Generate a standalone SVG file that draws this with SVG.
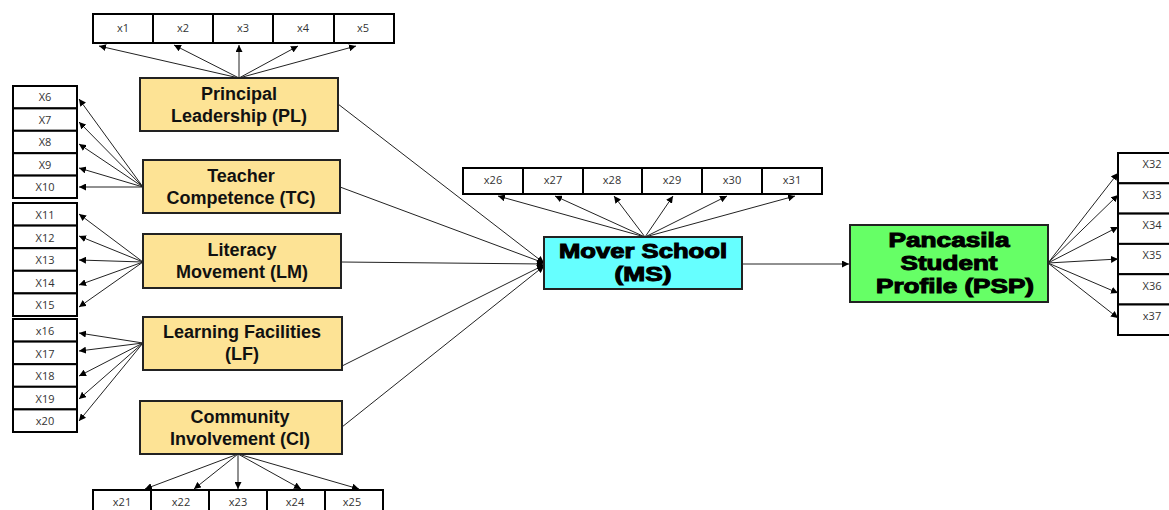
<svg xmlns="http://www.w3.org/2000/svg" width="1169" height="510" viewBox="0 0 1169 510">
<defs>
<marker id="ah" viewBox="0 0 10 10" refX="10" refY="5" markerWidth="7" markerHeight="7" markerUnits="userSpaceOnUse" orient="auto"><path d="M0,0 L10,5 L0,10 z" fill="#000"/></marker>
<style>
.ind rect{fill:#fff;stroke:#000;stroke-width:2}
.ind text{font-family:"Open Sans","Liberation Sans",sans-serif;font-size:11px;fill:#333;text-anchor:middle}
.lat rect{fill:#FDE395;stroke:#222;stroke-width:2}
.lat text{font-family:"Liberation Sans",Arial,sans-serif;font-weight:bold;font-size:18px;fill:#111;text-anchor:middle}
.big text{font-family:"Liberation Sans",Arial,sans-serif;font-weight:bold;font-size:19.5px;fill:#000;text-anchor:middle;stroke:#000;stroke-width:1}
.big rect{stroke:#222;stroke-width:2}
#connectors line{stroke:#222;stroke-width:1;marker-end:url(#ah)}
</style>
</defs>
<rect width="1169" height="510" fill="#fff"/>

<g id="ind-top" class="ind">
<rect x="93" y="14" width="60" height="29"/><text x="123" y="32">x1</text>
<rect x="153" y="14" width="60" height="29"/><text x="183" y="32">x2</text>
<rect x="213" y="14" width="60" height="29"/><text x="243" y="32">x3</text>
<rect x="273" y="14" width="61" height="29"/><text x="303" y="32">x4</text>
<rect x="334" y="14" width="60" height="29"/><text x="363" y="32">x5</text>
</g>
<g id="ind-tc" class="ind">
<rect x="13" y="86" width="64" height="22.4"/><text x="45" y="101">X6</text>
<rect x="13" y="108.4" width="64" height="22.4"/><text x="45" y="123.5">X7</text>
<rect x="13" y="130.8" width="64" height="22.4"/><text x="45" y="146">X8</text>
<rect x="13" y="153.2" width="64" height="22.4"/><text x="45" y="168.5">X9</text>
<rect x="13" y="175.6" width="64" height="22.4"/><text x="45" y="191">X10</text>
</g>
<g id="ind-lm" class="ind">
<rect x="13" y="203" width="64" height="22.6"/><text x="45" y="219">X11</text>
<rect x="13" y="225.6" width="64" height="22.6"/><text x="45" y="241.5">X12</text>
<rect x="13" y="248.2" width="64" height="22.6"/><text x="45" y="264">X13</text>
<rect x="13" y="270.8" width="64" height="22.6"/><text x="45" y="286.5">X14</text>
<rect x="13" y="293.4" width="64" height="22.6"/><text x="45" y="309">X15</text>
</g>
<g id="ind-lf" class="ind">
<rect x="13" y="319" width="64" height="22.6"/><text x="45" y="335">x16</text>
<rect x="13" y="341.6" width="64" height="22.6"/><text x="45" y="357.5">X17</text>
<rect x="13" y="364.2" width="64" height="22.6"/><text x="45" y="380">X18</text>
<rect x="13" y="386.8" width="64" height="22.6"/><text x="45" y="402.5">X19</text>
<rect x="13" y="409.4" width="64" height="22.6"/><text x="45" y="425">x20</text>
</g>
<g id="ind-ci" class="ind">
<rect x="93" y="490" width="58" height="29"/><text x="122" y="506">x21</text>
<rect x="151" y="490" width="58" height="29"/><text x="181" y="506">x22</text>
<rect x="209" y="490" width="58" height="29"/><text x="238" y="506">x23</text>
<rect x="267" y="490" width="58" height="29"/><text x="295" y="506">x24</text>
<rect x="325" y="490" width="58" height="29"/><text x="352" y="506">x25</text>
</g>
<g id="ind-ms" class="ind">
<rect x="463" y="168" width="60" height="26"/><text x="493" y="184">x26</text>
<rect x="523" y="168" width="60" height="26"/><text x="553" y="184">x27</text>
<rect x="583" y="168" width="59" height="26"/><text x="612" y="184">x28</text>
<rect x="642" y="168" width="60" height="26"/><text x="672" y="184">x29</text>
<rect x="702" y="168" width="60" height="26"/><text x="732" y="184">x30</text>
<rect x="762" y="168" width="60" height="26"/><text x="792" y="184">x31</text>
</g>
<g id="ind-psp" class="ind">
<rect x="1118" y="153" width="60" height="30.3"/><text x="1152" y="168">X32</text>
<rect x="1118" y="183.3" width="60" height="30.3"/><text x="1152" y="198.5">X33</text>
<rect x="1118" y="213.6" width="60" height="30.3"/><text x="1152" y="229">X34</text>
<rect x="1118" y="243.9" width="60" height="30.3"/><text x="1152" y="259">X35</text>
<rect x="1118" y="274.2" width="60" height="30.3"/><text x="1152" y="290">X36</text>
<rect x="1118" y="304.5" width="60" height="30.5"/><text x="1152" y="320">x37</text>
</g>

<g id="connectors">
<line x1="239" y1="78" x2="99" y2="46"/>
<line x1="239" y1="78" x2="174" y2="45"/>
<line x1="239" y1="78" x2="239" y2="45"/>
<line x1="239" y1="78" x2="298" y2="46"/>
<line x1="239" y1="78" x2="356" y2="46"/>

<line x1="143" y1="187" x2="79" y2="99"/>
<line x1="143" y1="187" x2="79" y2="122"/>
<line x1="143" y1="187" x2="79" y2="144"/>
<line x1="143" y1="187" x2="79" y2="168"/>
<line x1="143" y1="187" x2="79" y2="187"/>

<line x1="143" y1="262" x2="79" y2="214"/>
<line x1="143" y1="262" x2="79" y2="236"/>
<line x1="143" y1="262" x2="79" y2="260"/>
<line x1="143" y1="262" x2="79" y2="285"/>
<line x1="143" y1="262" x2="79" y2="307"/>

<line x1="143" y1="343" x2="79" y2="333"/>
<line x1="143" y1="343" x2="79" y2="351"/>
<line x1="143" y1="343" x2="79" y2="376"/>
<line x1="143" y1="343" x2="79" y2="399"/>
<line x1="143" y1="343" x2="79" y2="421"/>

<line x1="238" y1="454" x2="145" y2="489"/>
<line x1="238" y1="454" x2="194" y2="489"/>
<line x1="238" y1="454" x2="238" y2="489"/>
<line x1="238" y1="454" x2="301" y2="489"/>
<line x1="238" y1="454" x2="359" y2="489"/>

<line x1="645" y1="237" x2="498" y2="196"/>
<line x1="645" y1="237" x2="555" y2="196"/>
<line x1="645" y1="237" x2="614" y2="196"/>
<line x1="645" y1="237" x2="673" y2="196"/>
<line x1="645" y1="237" x2="727" y2="196"/>
<line x1="645" y1="237" x2="795" y2="196"/>

<line x1="338" y1="104" x2="544" y2="263"/>
<line x1="340" y1="187" x2="544" y2="263"/>
<line x1="341" y1="262" x2="544" y2="264"/>
<line x1="342" y1="366" x2="544" y2="265"/>
<line x1="342" y1="427" x2="544" y2="266"/>

<line x1="742" y1="264" x2="849" y2="264"/>

<line x1="1048" y1="263" x2="1118" y2="173"/>
<line x1="1048" y1="263" x2="1118" y2="195"/>
<line x1="1048" y1="263" x2="1118" y2="227"/>
<line x1="1048" y1="263" x2="1118" y2="259"/>
<line x1="1048" y1="263" x2="1118" y2="293"/>
<line x1="1048" y1="263" x2="1118" y2="318"/>
</g>

<g id="PL" class="lat"><rect x="140" y="78" width="198" height="53"/><text x="239" y="100">Principal</text><text x="239" y="122">Leadership (PL)</text></g>
<g id="TC" class="lat"><rect x="143" y="160" width="197" height="53"/><text x="241" y="182">Teacher</text><text x="241" y="204">Competence (TC)</text></g>
<g id="LM" class="lat"><rect x="143" y="234" width="198" height="54"/><text x="242" y="256">Literacy</text><text x="242" y="278">Movement (LM)</text></g>
<g id="LF" class="lat"><rect x="143" y="317" width="199" height="53"/><text x="242" y="338">Learning Facilities</text><text x="242" y="360">(LF)</text></g>
<g id="CI" class="lat"><rect x="140" y="401" width="202" height="53"/><text x="240" y="423">Community</text><text x="240" y="445">Involvement (CI)</text></g>
<g id="MS" class="big"><rect x="544" y="237" width="198" height="52" fill="#66FFFF"/><text x="643" y="258" textLength="168" lengthAdjust="spacingAndGlyphs">Mover School</text><text x="643" y="281" textLength="57" lengthAdjust="spacingAndGlyphs">(MS)</text></g>
<g id="PSP" class="big"><rect x="850" y="225" width="198" height="77" fill="#66FF66"/><text x="949" y="247" textLength="121" lengthAdjust="spacingAndGlyphs">Pancasila</text><text x="949" y="270" textLength="97" lengthAdjust="spacingAndGlyphs">Student</text><text x="955" y="293" textLength="158" lengthAdjust="spacingAndGlyphs">Profile (PSP)</text></g>
</svg>
